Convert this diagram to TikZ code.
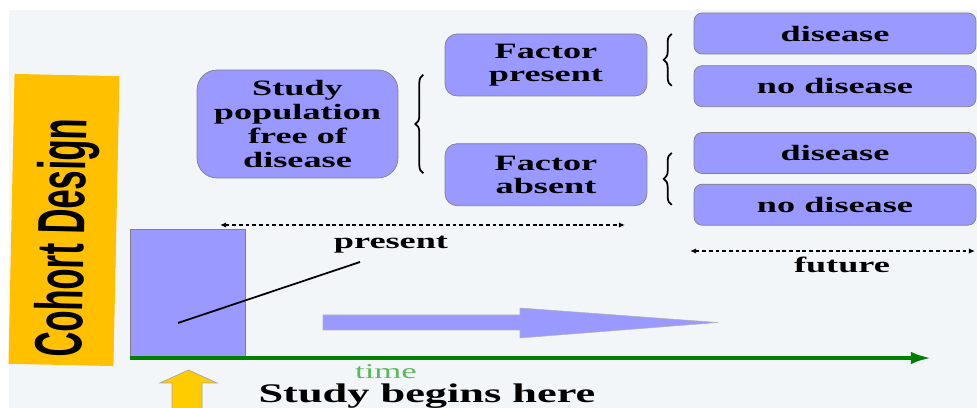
\documentclass[tikz,border=0pt]{standalone}
\usepackage{fontspec}
\setmainfont{Liberation Serif}[FakeStretch=1.65]
\newfontfamily\narrowsans{Liberation Sans}[FakeStretch=0.52]
\usepackage{xcolor}
\usetikzlibrary{arrows.meta, positioning, calc, decorations.pathreplacing}
\definecolor{boxblue}{HTML}{9999FF}
\definecolor{bandgold}{HTML}{FFC000}
\definecolor{arrowgold}{HTML}{FFCC00}
\definecolor{axisgreen}{HTML}{008000}
\definecolor{timegreen}{HTML}{5CB85C}
\definecolor{paper}{HTML}{F3F6F8}

\begin{document}
\begin{tikzpicture}[
  x=0.02cm, y=0.02cm,
  box/.style={draw=gray, fill=boxblue, rounded corners=0.24cm, minimum width=4.04cm, minimum height=1.24cm, inner sep=0pt, align=center, font=\bfseries\fontsize{12.5}{13.2}\selectfont},
  popbox/.style={box, rounded corners=0.4cm, minimum width=4.02cm, minimum height=2.16cm, font=\bfseries\fontsize{12.5}{13.8}\selectfont},
  outcome/.style={draw=gray, fill=boxblue, rounded corners=0.16cm, minimum width=5.64cm, minimum height=0.82cm, inner sep=0pt, font=\bfseries\fontsize{12.5}{13.2}\selectfont},
  lbl/.style={font=\bfseries\fontsize{12.5}{13.2}\selectfont, inner sep=0pt},
  span/.style={dash pattern=on 2.2pt off 1.6pt, line width=0.7pt, {Latex[length=3.5pt,width=3pt]}-{Latex[length=3.5pt,width=3pt]}},
  brace/.style={decorate, decoration={brace, amplitude=0.16cm}, line width=1pt},
  axis/.style={axisgreen, line width=2.3pt, -{Latex[length=12pt,width=7pt]}}
]
  \useasboundingbox (0,0) rectangle (977,408);
  \fill[white] (0,0) rectangle (977,408);
  \fill[paper] (9,0) rectangle (977,398);

  \node[fill=bandgold, rotate=88.8, minimum width=5.8cm, minimum height=2.1cm, inner sep=0pt] (band) at (64,188) {};
  \node[rotate=88.8, inner sep=0pt, font=\narrowsans\bfseries\fontsize{38}{38}\selectfont] (title) at (67,170) {Cohort Design};

  \node[popbox] (pop) at (297.5,284) {Study\\population\\free of\\disease};
  \node[box] (fpres) at (546,343) {Factor\\present};
  \node[box, below=0.94cm of fpres] (fabs) {Factor\\absent};
  \node[outcome] (dis1) at (835,374.5) {disease};
  \node[outcome, below=0.22cm of dis1] (nodis1) {no disease};
  \node[outcome] (dis2) at (835,255) {disease};
  \node[outcome, below=0.2cm of dis2] (nodis2) {no disease};

  \coordinate (gap1) at ($(dis1.south west)!0.5!(nodis1.north west)$);
  \coordinate (gap2) at ($(dis2.south west)!0.5!(nodis2.north west)$);
  \draw[brace] ([shift={(25,5)}]pop.south east) -- ([shift={(25,-5)}]pop.north east);
  \draw[brace] ([shift={(-22,-26)}]gap1) -- ([shift={(-22,26)}]gap1);
  \draw[brace] ([shift={(-22,-26)}]gap2) -- ([shift={(-22,26)}]gap2);

  \coordinate (now-l) at (220,183);
  \coordinate (now-r) at (625,183);
  \coordinate (fut-l) at (690,157);
  \coordinate (fut-r) at (975,157);
  \draw[span] (now-l) -- (now-r);
  \draw[span] (fut-l) -- (fut-r);
  \node[lbl] (present) at (391,163) {present};
  \node[lbl] (future) at (842,143) {future};

  \node[draw=gray, fill=boxblue, anchor=south west, minimum width=2.3cm, minimum height=2.56cm, inner sep=0pt] (bar) at (130,50) {};
  \coordinate (ptr) at (178,85);
  \coordinate (ptr-end) at (360,146);
  \draw[line width=1pt] (ptr) -- (ptr-end);

  \filldraw[fill=boxblue, draw=gray!60, line width=0.3pt] (323,93) -- (520,93) -- (520,100) -- (718,85.5) -- (520,70) -- (520,78) -- (323,78) -- cycle;

  \coordinate (axis-end) at (932,50);
  \draw[axis] (bar.south west) -- (axis-end);
  \node[text=timegreen, font=\fontsize{12}{12}\selectfont, inner sep=0pt] (time) at (386,36.5) {time};

  \filldraw[fill=arrowgold, draw=gray!70, line width=0.4pt] (172,-2) -- (172,25) -- (160,25) -- (188.5,38) -- (217,25) -- (202,25) -- (202,-2) -- cycle;
  \node[anchor=base, inner sep=0pt, font=\bfseries\fontsize{15.3}{16}\selectfont] (begins) at (427,5) {Study begins here};
\end{tikzpicture}
\end{document}
